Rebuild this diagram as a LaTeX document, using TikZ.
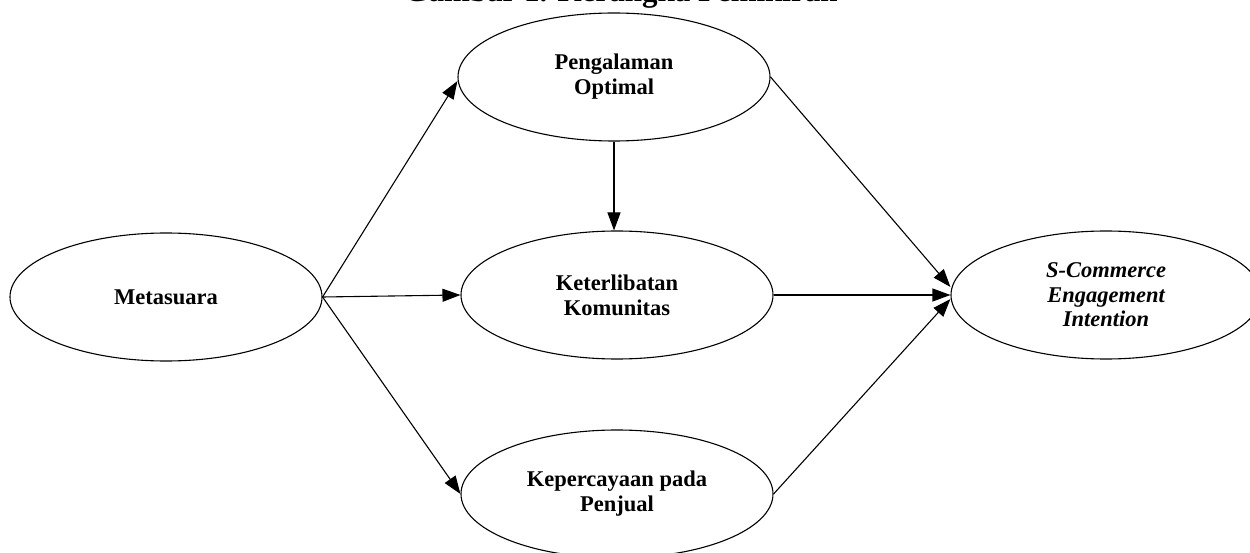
\documentclass[tikz,border=0pt]{standalone}
\usepackage{fontspec}
\setmainfont{Liberation Serif}
\usetikzlibrary{shapes.geometric,arrows.meta}
\begin{document}
\begin{tikzpicture}[x=1pt,y=-1pt,
  var/.style={ellipse,draw,line width=1.1pt,minimum width=312pt,minimum height=128pt,
    inner sep=0pt,align=center,font=\fontsize{22.5}{25}\selectfont\bfseries},
  link/.style={line width=1.1pt,-{Triangle[length=18pt,width=13pt]}}]
\useasboundingbox (0,0) rectangle (1250,553);
\clip (0,0) rectangle (1250,553);
\node[anchor=base,font=\fontsize{31}{34}\selectfont\bfseries] (title) at (621,2) {Gambar 1. Kerangka Pemikiran};
\node[var] (M) at (166,297) {Metasuara};
\node[var] (P) at (614,77) {Pengalaman\\Optimal};
\node[var] (K) at (617,295) {Keterlibatan\\Komunitas};
\node[var] (Kp) at (617,494) {Kepercayaan pada\\Penjual};
\node[var,minimum width=310pt,font=\fontsize{22.5}{24.5}\selectfont\bfseries\itshape] (S) at (1106,295) {S-Commerce\\Engagement\\Intention};
\coordinate (s1) at ([yshift=8pt]S.west);
\coordinate (s2) at (S.west);
\coordinate (s3) at ([yshift=-4pt]S.west);
\coordinate (kt) at (P.south |- K.north);
\draw[link] (M.east) -- ([yshift=-4pt]P.west);
\draw[link] (M.east) -- (K.west);
\draw[link] (M.east) -- (Kp.west);
\draw[link] (P.south) -- (kt);
\draw[link] (P.east) -- (s1);
\draw[link] (K.east) -- (s2);
\draw[link] (Kp.east) -- (s3);
\end{tikzpicture}
\end{document}
